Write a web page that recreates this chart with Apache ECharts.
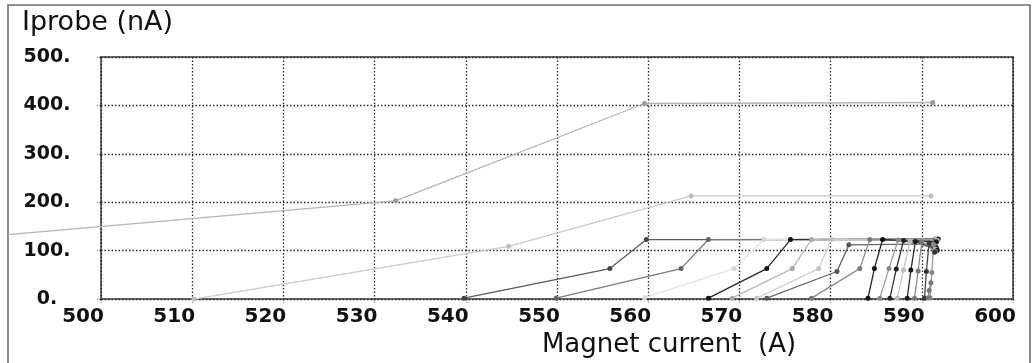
<!DOCTYPE html>
<html>
<head>
<meta charset="utf-8">
<script src="https://cdn.jsdelivr.net/npm/echarts@6/dist/echarts.min.js"></script>
<style>
  html, body { margin: 0; padding: 0; background: #fff; }
  #chart { width: 1033px; height: 363px; }
</style>
</head>
<body>
<div id="chart"></div>
<script>
// Probe current versus magnet current, one trace per scan.
const xTicks = [500, 510, 520, 530, 540, 550, 560, 570, 580, 590, 600];
const yTicks = [0, 100, 200, 300, 400, 500];

const scan01 = [[489.8, 133], [532.3, 203], [559.6, 404], [591.2, 406]];
const scan02 = [[510.2, 0], [544.7, 109], [564.7, 213], [591.0, 213]];
const scan03 = [[539.8, 2], [555.8, 63], [559.8, 123], [591.5, 123]];
const scan04 = [[549.9, 2], [563.6, 63], [566.6, 123], [591.5, 124]];
const scan05 = [[559.6, 3], [569.4, 63], [572.7, 123], [591.6, 124]];
const scan06 = [[566.6, 2], [573.0, 63], [575.6, 123], [591.8, 124]];
const scan07 = [[569.2, 2], [575.8, 63], [577.9, 123], [591.6, 122]];
const scan08 = [[571.9, 2], [578.7, 63], [580.1, 123], [591.7, 121]];
const scan09 = [[573.0, 2], [580.7, 57], [582.0, 112], [591.4, 114]];
const scan10 = [[577.9, 2], [583.2, 63], [584.3, 123], [591.5, 120]];
const scan11 = [[584.1, 2], [584.8, 63], [585.7, 123], [591.6, 118]];
const scan12 = [[585.4, 2], [586.4, 63], [587.4, 122], [591.5, 110]];
const scan13 = [[586.5, 2], [587.2, 62], [588.0, 121], [591.6, 106]];
const scan14 = [[587.3, 2], [588.0, 60], [588.7, 120], [591.5, 103]];
const scan15 = [[588.4, 2], [588.8, 60], [589.3, 119], [591.7, 101]];
const scan16 = [[589.2, 2], [589.6, 58], [590.0, 118], [591.5, 99]];
const scan17 = [[590.3, 2], [590.5, 57], [590.8, 116], [591.4, 97]];
const scan18 = [[590.9, 3], [591.1, 55], [591.3, 113]];
const scan19 = [[590.7, 3], [590.8, 18], [591.0, 34]];

// The first scan starts left of the axis range, so it is drawn with a
// custom series (not clipped to the plot area).
const firstScan = { data: scan01, color: '#b4b4b4', dot: '#9a9a9a' };

const scans = [
  { data: scan02, color: '#cacaca', dot: '#bdbdbd' },
  { data: scan03, color: '#5a5a5a', dot: '#444' },
  { data: scan04, color: '#7a7a7a', dot: '#666' },
  { data: scan05, color: '#e2e2e2', dot: '#d8d8d8' },
  { data: scan06, color: '#2a2a2a', dot: '#111' },
  { data: scan07, color: '#b8b8b8', dot: '#aaa' },
  { data: scan08, color: '#cfcfcf', dot: '#c2c2c2' },
  { data: scan09, color: '#666', dot: '#555' },
  { data: scan10, color: '#8c8c8c', dot: '#777' },
  { data: scan11, color: '#222', dot: '#111' },
  { data: scan12, color: '#999', dot: '#888' },
  { data: scan13, color: '#333', dot: '#222' },
  { data: scan14, color: '#c8c8c8', dot: '#bbb' },
  { data: scan15, color: '#2e2e2e', dot: '#1a1a1a' },
  { data: scan16, color: '#8a8a8a', dot: '#777' },
  { data: scan17, color: '#444', dot: '#333' },
  { data: scan18, color: '#999', dot: '#888' },
  { data: scan19, color: '#888', dot: '#777' }
];

const chart = echarts.init(document.getElementById('chart'), null, { renderer: 'canvas' });

const dotted = { color: '#2b2b2b', width: 1.3, type: [1.5, 2] };

const series = scans.map(s => ({
  type: 'line',
  symbol: 'circle',
  symbolSize: 5,
  lineStyle: { color: s.color, width: 1.3 },
  itemStyle: { color: s.dot },
  data: s.data,
  z: 3
}));

series.unshift({
  type: 'custom',
  clip: false,
  z: 3,
  data: firstScan.data,
  encode: { x: 0, y: 1 },
  renderItem: (params, api) => {
    const i = params.dataIndex;
    const p = api.coord([api.value(0), api.value(1)]);
    const children = [];
    if (i > 0) {
      const prev = firstScan.data[i - 1];
      const q = api.coord(prev);
      children.push({
        type: 'line',
        shape: { x1: q[0], y1: q[1], x2: p[0], y2: p[1] },
        style: { stroke: firstScan.color, lineWidth: 1.3 }
      });
      children.push({
        type: 'circle',
        shape: { cx: p[0], cy: p[1], r: 2.5 },
        style: { fill: firstScan.dot },
        z2: 2
      });
    }
    return { type: 'group', children };
  }
});

chart.setOption({
  animation: false,
  backgroundColor: '#fff',
  grid: {
    left: 101, top: 57, width: 912, height: 248,
    show: true, borderColor: '#6a6a6a', borderWidth: 2, backgroundColor: 'transparent'
  },
  xAxis: {
    type: 'value',
    min: xTicks[0], max: xTicks[xTicks.length - 1], interval: 10,
    axisLine: { show: false },
    axisTick: { show: true, length: 4, lineStyle: dotted },
    splitLine: { show: true, lineStyle: dotted },
    axisLabel: {
      showMinLabel: true, showMaxLabel: true,
      fontFamily: 'DejaVu Sans', fontWeight: 'bold', fontSize: 20, color: '#111',
      margin: 8, align: 'center', padding: [0, 36, 0, 0]
    },
    name: 'Magnet current  (A)',
    nameLocation: 'middle', nameGap: 23,
    nameTextStyle: {
      fontFamily: 'DejaVu Sans', fontSize: 26, color: '#111',
      verticalAlign: 'top', padding: [0, 0, 0, 224]
    }
  },
  yAxis: {
    type: 'value',
    min: yTicks[0], max: yTicks[yTicks.length - 1], interval: 100,
    axisLine: { show: false },
    axisTick: { show: true, length: 4, lineStyle: dotted },
    splitLine: { show: true, lineStyle: dotted },
    axisLabel: {
      showMinLabel: true, showMaxLabel: true,
      formatter: v => v + '.',
      fontFamily: 'DejaVu Sans', fontWeight: 'bold', fontSize: 19, color: '#111',
      align: 'center', margin: 54
    }
  },
  graphic: [
    {
      type: 'rect', silent: true, z: 0,
      shape: { x: 8, y: 5, width: 1022, height: 400 },
      style: { fill: 'none', stroke: '#6f6f6f', lineWidth: 1.6 }
    },
    {
      type: 'text', left: 22, top: 9, silent: true,
      style: { text: 'Iprobe (nA)', fontFamily: 'DejaVu Sans', fontSize: 27, fill: '#111' }
    }
  ],
  series: series
});
</script>
</body>
</html>
